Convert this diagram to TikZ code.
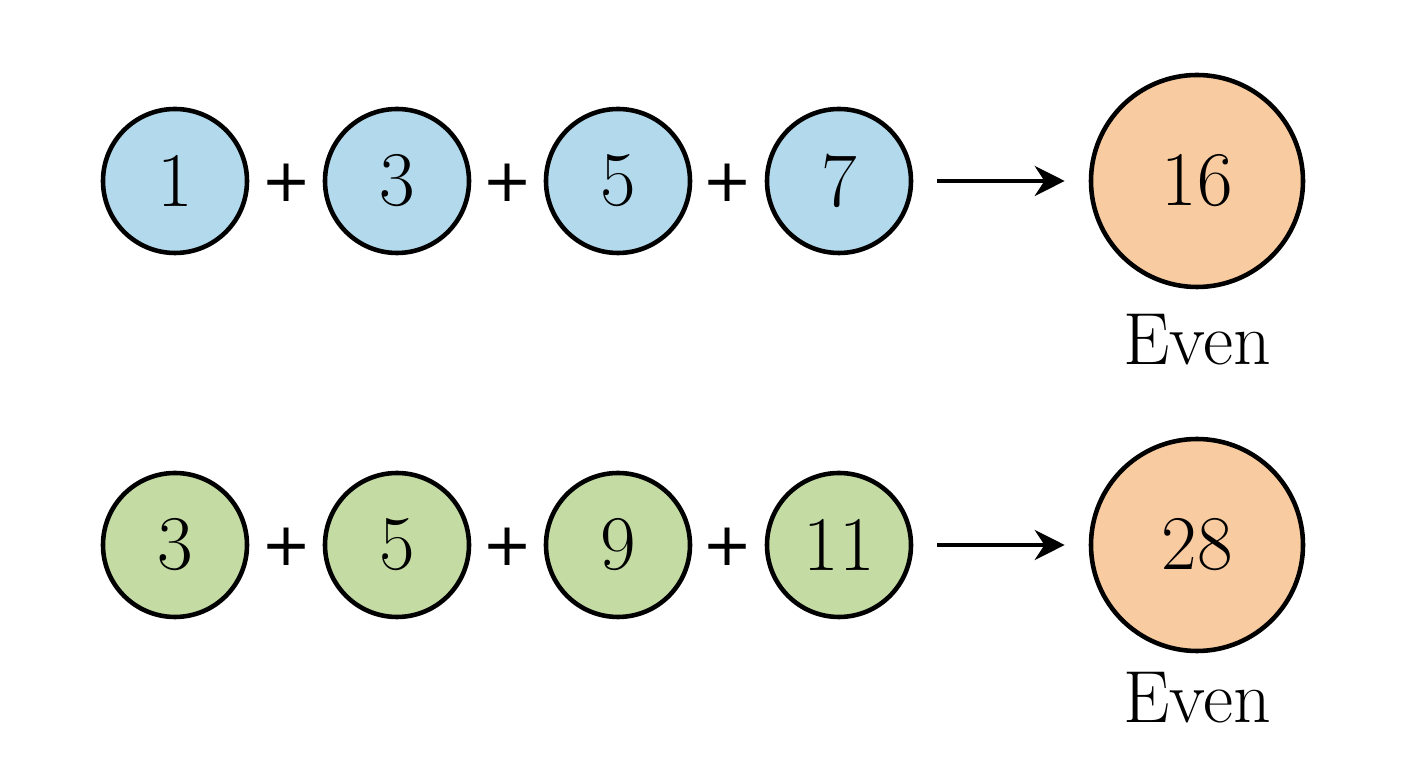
\documentclass[tikz,border=0pt]{standalone}
\usepackage{fontspec}
\usetikzlibrary{arrows.meta}

\newfontfamily\plusfont{DejaVu Sans}

\definecolor{oddblue}{HTML}{B3DAEC}
\definecolor{oddgreen}{HTML}{C4DCA4}
\definecolor{sumorange}{HTML}{F9CBA0}

\tikzset{
    term/.style={draw, circle, line width=1.3pt, minimum size=1.44cm, inner sep=0pt, font=\fontsize{22}{26}\selectfont},
    total/.style={term, minimum size=2.12cm, fill=sumorange},
    plus/.style={inner sep=0pt, font=\fontsize{17}{17}\plusfont},
    tag/.style={inner sep=0pt, font=\fontsize{21}{25}\selectfont},
    arr/.style={-{Stealth[length=0.3cm, width=0.3cm]}, line width=1.1pt, shorten <=0.24cm, shorten >=0.24cm}
}

\begin{document}
\begin{tikzpicture}
    \useasboundingbox (0,0) rectangle (14.08,7.68);

    % first row: 1 + 3 + 5 + 7
    \node[term, fill=oddblue] (a1) at (1.75,5.87) {1};
    \node[term, fill=oddblue] (a2) at (3.97,5.87) {3};
    \node[term, fill=oddblue] (a3) at (6.18,5.87) {5};
    \node[term, fill=oddblue] (a4) at (8.39,5.87) {7};
    \node[plus] (p1) at (2.87,5.85) {+};
    \node[plus] (p2) at (5.08,5.85) {+};
    \node[plus] (p3) at (7.28,5.85) {+};
    \node[total] (s1) at (11.97,5.87) {16};
    \node[tag] (e1) at (11.97,4.28) {Even};
    \draw[arr] (a4) -- (s1);

    % second row: 3 + 5 + 9 + 11
    \node[term, fill=oddgreen] (b1) at (1.75,2.23) {3};
    \node[term, fill=oddgreen] (b2) at (3.97,2.23) {5};
    \node[term, fill=oddgreen] (b3) at (6.18,2.23) {9};
    \node[term, fill=oddgreen] (b4) at (8.39,2.23) {11};
    \node[plus] (q1) at (2.87,2.21) {+};
    \node[plus] (q2) at (5.08,2.21) {+};
    \node[plus] (q3) at (7.28,2.21) {+};
    \node[total] (s2) at (11.97,2.23) {28};
    \node[tag] (e2) at (11.97,0.70) {Even};
    \draw[arr] (b4) -- (s2);
\end{tikzpicture}
\end{document}
